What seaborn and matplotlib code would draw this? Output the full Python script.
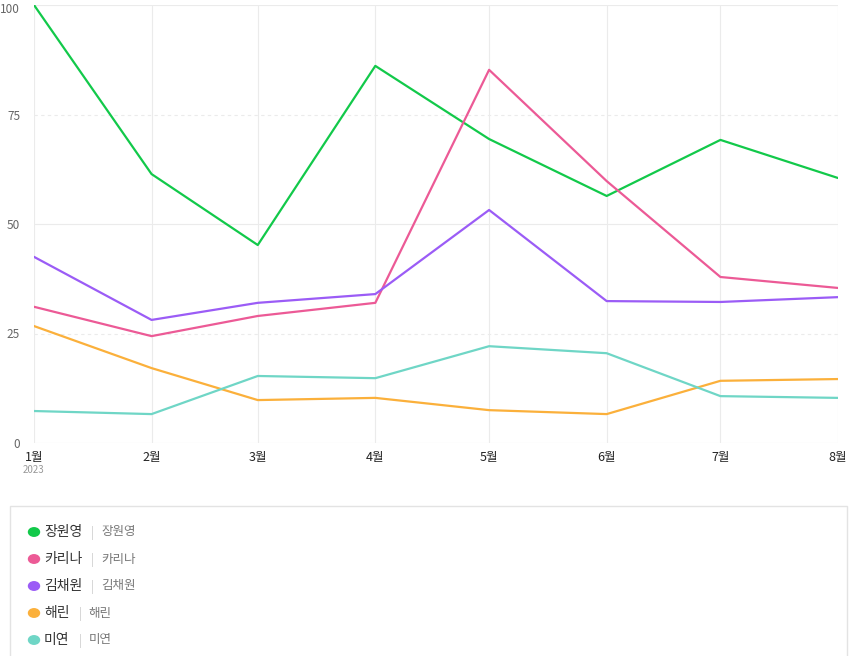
import matplotlib
matplotlib.use("Agg")
import matplotlib.pyplot as plt
import matplotlib.transforms as mtransforms
from matplotlib.patches import Rectangle
import seaborn as sns
import pandas as pd

# data
months = ["2023-01-01", "2023-02-01", "2023-03-01", "2023-04-01",
          "2023-05-01", "2023-06-01", "2023-07-01", "2023-08-01"]
month_labels = ["1월", "2월", "3월", "4월", "5월", "6월", "7월", "8월"]
members = ["장원영", "카리나", "김채원", "해린", "미연"]
jang_wonyoung = [100, 61.4, 45.2, 86.1, 69.4, 56.4, 69.2, 60.5]
karina = [31.1, 24.4, 29.0, 32.0, 85.2, 59.8, 37.9, 35.4]
kim_chaewon = [42.5, 28.1, 32.0, 34.0, 53.2, 32.4, 32.2, 33.3]
haerin = [26.7, 17.1, 9.8, 10.3, 7.5, 6.6, 14.2, 14.6]
miyeon = [7.3, 6.6, 15.3, 14.8, 22.1, 20.5, 10.7, 10.3]
colors = ["#12c94a", "#ec5a96", "#9b5cf6", "#fbb03b", "#6fd6c6"]

series = [jang_wonyoung, karina, kim_chaewon, haerin, miyeon]
dates = pd.to_datetime(months)
df = pd.concat([pd.DataFrame({"date": dates, "value": vals, "member": name})
                for name, vals in zip(members, series)], ignore_index=True)

sns.set_style("white")
plt.rcParams["font.family"] = ["Noto Sans CJK KR", "DejaVu Sans"]

fig = plt.figure(figsize=(8.5, 6.56), dpi=100)
ax = fig.add_axes([34 / 850, 1 - 443 / 656, (838 - 34) / 850, 438 / 656])

sns.lineplot(data=df, x="date", y="value", hue="member", hue_order=members,
             palette=colors, linewidth=1.6, legend=False, ax=ax)

ax.set_xlim(dates[0], dates[-1])
ax.set_ylim(0, 100)
ax.set_xticks(dates)
ax.set_xticklabels(month_labels, fontsize=9, color="#222222")
ax.set_yticks([0, 25, 50, 75, 100])
ax.set_yticklabels(["0", "25", "50", "75", "100"], fontsize=8.5, color="#666666")
ax.tick_params(axis="both", length=0)
ax.tick_params(axis="x", pad=6)
ax.tick_params(axis="y", pad=10)
ax.set_xlabel("")
ax.set_ylabel("")
for s in ax.spines.values():
    s.set_visible(False)

# keep the top label inside the picture
top_label = ax.get_yticklabels()[-1]
top_label.set_transform(top_label.get_transform() +
                        mtransforms.ScaledTranslation(0, -2 / 72, fig.dpi_scale_trans))

ax.grid(True, color="#ebebeb", linewidth=0.8)
for val, gl in zip([0, 25, 50, 75, 100], ax.get_ygridlines()):
    if val in (25, 75):
        gl.set_linestyle((0, (3, 3)))
ax.set_axisbelow(True)

ax.annotate("2023", xy=(dates[0], 0), xycoords=("data", "axes fraction"),
            xytext=(0, -16), textcoords="offset points", ha="center",
            va="top", fontsize=7, color="#999999")

# legend box
fig.patches.append(Rectangle((10 / 850, -0.01), 837 / 850, 1 - 506 / 656 + 0.01,
                             transform=fig.transFigure, facecolor="white",
                             edgecolor="#e3e3e3", linewidth=1.0))
fig.canvas.draw()
renderer = fig.canvas.get_renderer()
for i, (name, c) in enumerate(zip(members, colors)):
    yy = 1 - (532 + 27 * i) / 656
    fig.patches.append(plt.Circle((34 / 850, yy), 5.5 / 850,
                                  transform=fig.transFigure, color=c))
    t = fig.text(44 / 850, yy, name, fontsize=10, color="#333333",
                 va="center", ha="left")
    bb = t.get_window_extent(renderer)
    bar = fig.text((bb.x1 + 9) / 850, yy - 0.002, "|", fontsize=9,
                   color="#cccccc", va="center", ha="left")
    bb2 = bar.get_window_extent(renderer)
    fig.text((bb2.x1 + 7) / 850, yy, name, fontsize=9, color="#777777",
             va="center", ha="left")

fig.savefig("out.png", dpi=100)
